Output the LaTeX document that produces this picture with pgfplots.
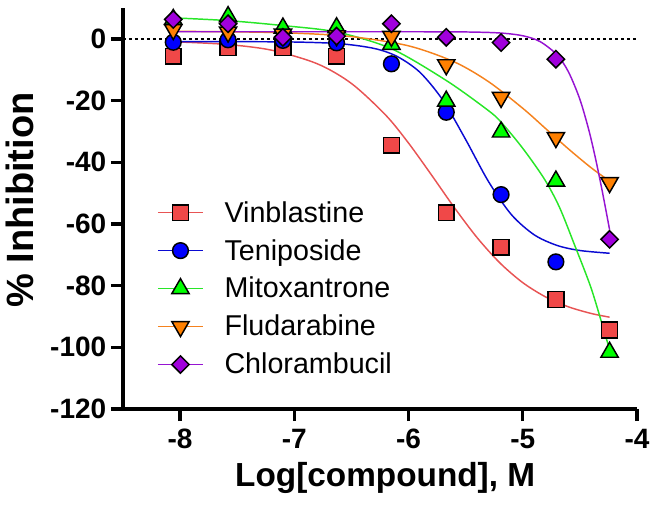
\documentclass[border=0pt]{standalone}
\usepackage{pgfplots}
\pgfplotsset{compat=1.18}
\usepackage{fontspec}
\setmainfont{Liberation Sans}
\definecolor{cRed}{RGB}{240,72,72}
\definecolor{cRedL}{RGB}{232,84,84}
\definecolor{cBlue}{RGB}{0,0,255}
\definecolor{cBlueL}{RGB}{10,10,210}
\definecolor{cGreen}{RGB}{0,255,0}
\definecolor{cGreenL}{RGB}{40,230,40}
\definecolor{cOrange}{RGB}{255,128,0}
\definecolor{cOrangeL}{RGB}{245,130,30}
\definecolor{cPurple}{RGB}{160,0,220}
\definecolor{cPurpleL}{RGB}{150,20,210}
\begin{document}
\begin{tikzpicture}
\begin{axis}[
  width=385.5pt, height=300.75pt, scale only axis,
  xmin=-8.5, xmax=-4, ymin=-120, ymax=10,
  axis x line*=bottom, axis y line*=left,
  axis line style={line width=2.5pt, black},
  xtick={-8,-7,-6,-5,-4}, ytick={-120,-100,-80,-60,-40,-20,0},
  tick align=outside, major tick length=9pt,
  tick style={line width=2.5pt, black},
  /pgf/number format/assume math mode=true,
  ticklabel style={font=\bfseries\fontsize{21}{25}\selectfont},
  xticklabel style={yshift=-2.5pt},
  xlabel={Log[compound], M},
  ylabel={\% Inhibition},
  xlabel style={font=\bfseries\fontsize{25}{29}\selectfont, at={(axis description cs:0.51,-0.1945)}, anchor=base},
  ylabel style={font=\bfseries\fontsize{28.5}{32}\selectfont, at={(axis description cs:-0.2004,0.521)}, anchor=center},
  legend style={at={(axis description cs:0.058,0.532)}, anchor=north west, draw=none, fill=none,
    font=\fontsize{21.5}{25}\selectfont, row sep=7.4pt, column sep=13.5pt},
  legend cell align=left,
  clip=false,
]
% zero line
\addplot[black, line width=1pt, dash pattern=on 2.25pt off 2.25pt, forget plot] coordinates {(-8.5,0) (-4,0)};
% fitted curves
\addplot[cRedL, line width=1.1pt, smooth, forget plot] coordinates {
(-8.06,-0.95) (-7.6,-1.79) (-7.2,-3.67) (-6.8,-8.07) (-6.5,-14.47) (-6.2,-24.73) (-6.0,-33.8) (-5.8,-44.09) (-5.6,-54.66) (-5.4,-64.44) (-5.2,-72.66) (-5.0,-79.04) (-4.8,-83.67) (-4.6,-86.88) (-4.4,-89.04) (-4.24,-90.23)};
\addplot[cBlueL, line width=1.1pt, smooth, forget plot] coordinates {
(-8.06,-0.9) (-7.5,-0.92) (-7.0,-1.03) (-6.6,-1.58) (-6.3,-3.12) (-6.1,-5.71) (-5.9,-10.86) (-5.7,-19.86) (-5.5,-32.65) (-5.3,-46.27) (-5.1,-56.97) (-4.9,-63.53) (-4.7,-66.97) (-4.5,-68.62) (-4.24,-69.51)};
\addplot[cGreenL, line width=1.1pt, smooth, forget plot] coordinates {
(-8.06,6.8) (-7.58,5.9) (-7.1,4.3) (-6.63,2.2) (-6.15,-3.2) (-5.67,-13.5) (-5.31,-23) (-5.19,-27) (-5.0,-35.5) (-4.81,-45.5) (-4.68,-54.5) (-4.55,-66.5) (-4.4,-81) (-4.27,-97) (-4.24,-100.5)};
\addplot[cOrangeL, line width=1.1pt, smooth, forget plot] coordinates {
(-8.06,2.43) (-7.5,2.27) (-7.0,1.86) (-6.5,0.72) (-6.0,-2.27) (-5.6,-7.47) (-5.3,-13.88) (-5.0,-22.52) (-4.8,-29.09) (-4.6,-35.69) (-4.4,-41.83) (-4.24,-46.11)};
\addplot[cPurpleL, line width=1.1pt, smooth, forget plot] coordinates {
(-8.06,2.3) (-7.0,2.3) (-6.0,2.3) (-5.5,2.23) (-5.2,1.9) (-5.0,1.0) (-4.85,-0.86) (-4.7,-5.19) (-4.6,-10.72) (-4.5,-19.62) (-4.42,-29.82) (-4.36,-39.33) (-4.3,-50.18) (-4.24,-61.86)};
% data points
\addplot[only marks, mark=square*, mark size=5.9pt, mark options={draw=black, fill=cRed, line width=1.1pt, solid},
  legend image code/.code={\draw[cRedL, line width=1.1pt] (0pt,0pt) -- (34pt,0pt); \draw[only marks] plot coordinates {(17pt,0pt)};}]
coordinates {(-8.06,-5.6) (-7.58,-2.9) (-7.1,-2.9) (-6.63,-5.6) (-6.15,-34.5) (-5.67,-56.4) (-5.19,-67.6) (-4.71,-84.5) (-4.24,-94.4)};
\addlegendentry{Vinblastine}
\addplot[only marks, mark=*, mark size=5.9pt, mark options={draw=black, fill=cBlue, line width=1.1pt, solid},
  legend image code/.code={\draw[cBlueL, line width=1.1pt] (0pt,0pt) -- (34pt,0pt); \draw[only marks] plot coordinates {(17pt,0pt)};}]
coordinates {(-8.06,-1.1) (-7.58,-0.3) (-7.1,-0.5) (-6.63,-1.3) (-6.15,-8.1) (-5.67,-23.8) (-5.19,-50.5) (-4.71,-72.3)};
\addlegendentry{Teniposide}
\addplot[only marks, mark=triangle*, mark size=7.5pt, mark options={draw=black, fill=cGreen, line width=1.1pt, solid},
  legend image code/.code={\draw[cGreenL, line width=1.1pt] (0pt,0pt) -- (34pt,0pt); \draw[only marks] plot coordinates {(17pt,0pt)};}]
coordinates {(-8.06,6.3) (-7.58,7.2) (-7.1,3.5) (-6.63,3.6) (-6.15,-1.8) (-5.67,-20.2) (-5.19,-30.2) (-4.71,-46.1) (-4.24,-101.6)};
\addlegendentry{Mitoxantrone}
\addplot[only marks, mark=triangle*, mark size=7.5pt, mark options={draw=black, fill=cOrange, line width=1.1pt, solid, rotate=180},
  legend image code/.code={\draw[cOrangeL, line width=1.1pt] (0pt,0pt) -- (34pt,0pt); \draw[only marks] plot coordinates {(17pt,0pt)};}]
coordinates {(-8.06,3) (-7.58,2.2) (-7.1,1.5) (-6.63,1) (-6.15,0.8) (-5.67,-8.4) (-5.19,-19) (-4.71,-32) (-4.24,-46.6)};
\addlegendentry{Fludarabine}
\addplot[only marks, mark=square*, mark size=4.6pt, mark options={draw=black, fill=cPurple, line width=1.1pt, solid, rotate=45},
  legend image code/.code={\draw[cPurpleL, line width=1.1pt] (0pt,0pt) -- (34pt,0pt); \draw[only marks] plot coordinates {(17pt,0pt)};}]
coordinates {(-8.06,6.3) (-7.58,4.9) (-7.1,0.5) (-6.63,0.9) (-6.15,4.9) (-5.67,0.5) (-5.19,-1.2) (-4.71,-6.6) (-4.24,-65)};
\addlegendentry{Chlorambucil}
\end{axis}
\pgfresetboundingbox
\path[use as bounding box] ([xshift=-92.25pt,yshift=-75.75pt]current axis.south west) rectangle ([xshift=14.25pt,yshift=6pt]current axis.north east);
\end{tikzpicture}
\end{document}
